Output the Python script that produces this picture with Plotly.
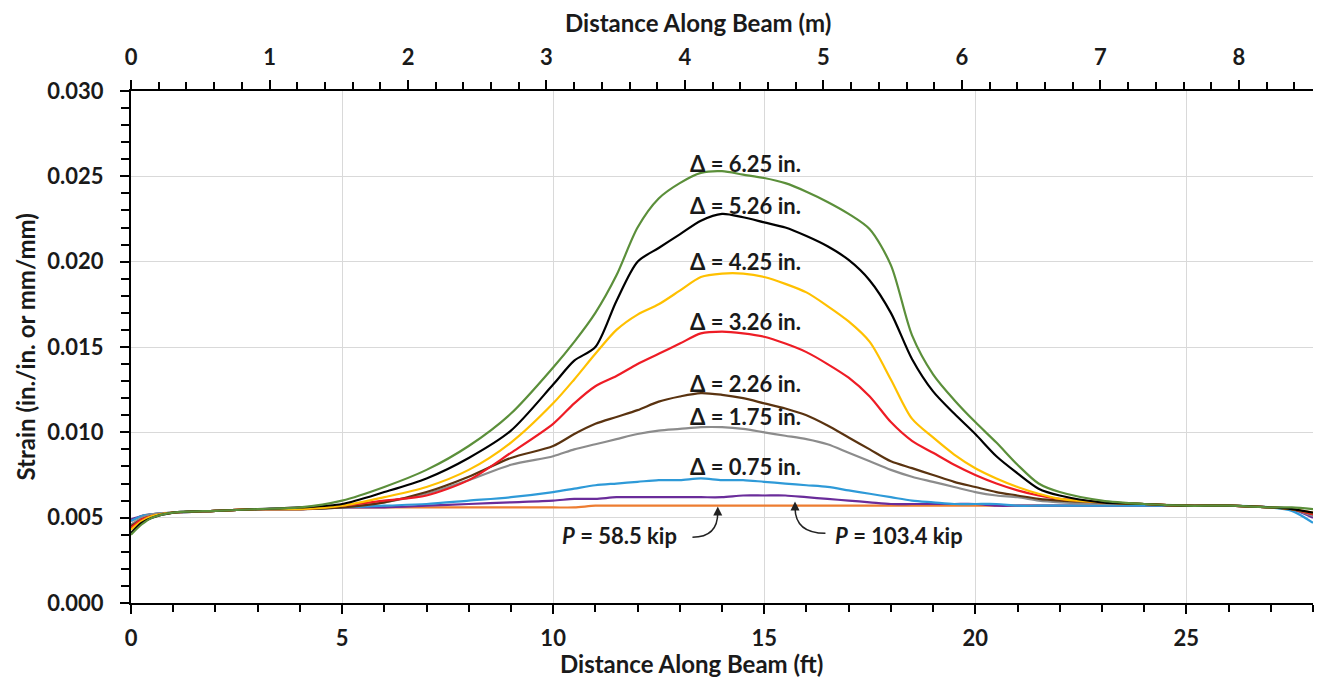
import plotly.graph_objects as go

# ---------------- data ----------------
x_ft = [0, 0.25, 0.5, 1, 2, 3, 4, 5, 6, 7, 8, 9, 10, 10.5, 11, 11.5, 12, 12.5, 13, 13.5,
        14, 14.5, 15, 15.5, 16, 16.5, 17, 17.5, 18, 18.5, 19, 19.5, 20, 20.5, 21, 21.5,
        22, 23, 24, 25, 26, 27, 27.5, 28]

strain_p58 = [0.0048, 0.0051, 0.0052, 0.0053, 0.0054, 0.0055, 0.0055, 0.0056, 0.0056, 0.0056,
              0.0056, 0.0056, 0.0056, 0.0056, 0.0057, 0.0057, 0.0057, 0.0057, 0.0057, 0.0057,
              0.0057, 0.0057, 0.0057, 0.0057, 0.0057, 0.0057, 0.0057, 0.0057, 0.0057, 0.0057,
              0.0057, 0.0057, 0.0057, 0.0057, 0.0057, 0.0057, 0.0057, 0.0057, 0.0057, 0.0057,
              0.0057, 0.0056, 0.0055, 0.0052]
strain_p103 = [0.0049, 0.0051, 0.0052, 0.0053, 0.0054, 0.0055, 0.0055, 0.0056, 0.0056, 0.0057,
               0.0058, 0.0059, 0.0060, 0.0061, 0.0061, 0.0062, 0.0062, 0.0062, 0.0062, 0.0062,
               0.0062, 0.0063, 0.0063, 0.0063, 0.0062, 0.0061, 0.0060, 0.0059, 0.0058, 0.0058,
               0.0058, 0.0058, 0.0058, 0.0057, 0.0057, 0.0057, 0.0057, 0.0057, 0.0057, 0.0057,
               0.0057, 0.0056, 0.0055, 0.0050]
strain_d075 = [0.0048, 0.0051, 0.0052, 0.0053, 0.0054, 0.0055, 0.0055, 0.0056, 0.0057, 0.0058,
               0.0060, 0.0062, 0.0065, 0.0067, 0.0069, 0.0070, 0.0071, 0.0072, 0.0072, 0.0073,
               0.0072, 0.0072, 0.0071, 0.0070, 0.0069, 0.0068, 0.0066, 0.0064, 0.0062, 0.0060,
               0.0059, 0.0058, 0.0058, 0.0058, 0.0057, 0.0057, 0.0057, 0.0057, 0.0057, 0.0057,
               0.0057, 0.0056, 0.0054, 0.0047]
strain_d175 = [0.0046, 0.0050, 0.0052, 0.0053, 0.0054, 0.0055, 0.0055, 0.0056, 0.0059, 0.0064,
               0.0072, 0.0081, 0.0086, 0.0090, 0.0093, 0.0096, 0.0099, 0.0101, 0.0102, 0.0103,
               0.0103, 0.0102, 0.0100, 0.0098, 0.0096, 0.0093, 0.0088, 0.0083, 0.0078, 0.0074,
               0.0071, 0.0068, 0.0065, 0.0063, 0.0062, 0.0060, 0.0059, 0.0058, 0.0058, 0.0057,
               0.0057, 0.0056, 0.0055, 0.0051]
strain_d226 = [0.0045, 0.0049, 0.0051, 0.0053, 0.0054, 0.0055, 0.0055, 0.0056, 0.0059, 0.0065,
               0.0074, 0.0085, 0.0092, 0.0099, 0.0105, 0.0109, 0.0113, 0.0118, 0.0121, 0.0123,
               0.0122, 0.0120, 0.0117, 0.0114, 0.0110, 0.0104, 0.0097, 0.0090, 0.0083, 0.0079,
               0.0075, 0.0071, 0.0068, 0.0065, 0.0063, 0.0061, 0.0060, 0.0059, 0.0058, 0.0057,
               0.0057, 0.0056, 0.0055, 0.0052]
strain_d326 = [0.0044, 0.0049, 0.0051, 0.0053, 0.0054, 0.0055, 0.0055, 0.0057, 0.0060, 0.0063,
               0.0072, 0.0088, 0.0105, 0.0117, 0.0127, 0.0133, 0.0140, 0.0146, 0.0152, 0.0158,
               0.0159, 0.0158, 0.0156, 0.0152, 0.0147, 0.0140, 0.0132, 0.0121, 0.0106, 0.0095,
               0.0088, 0.0081, 0.0075, 0.0070, 0.0066, 0.0063, 0.0061, 0.0059, 0.0058, 0.0057,
               0.0057, 0.0056, 0.0055, 0.0052]
strain_d425 = [0.0043, 0.0048, 0.0051, 0.0053, 0.0054, 0.0055, 0.0055, 0.0057, 0.0062, 0.0068,
               0.0078, 0.0094, 0.0117, 0.0131, 0.0146, 0.0160, 0.0169, 0.0175, 0.0183, 0.0191,
               0.0193, 0.0193, 0.0191, 0.0187, 0.0182, 0.0174, 0.0165, 0.0153, 0.0131, 0.0108,
               0.0097, 0.0087, 0.0079, 0.0073, 0.0068, 0.0064, 0.0061, 0.0059, 0.0058, 0.0057,
               0.0057, 0.0056, 0.0055, 0.0053]
strain_d526 = [0.0041, 0.0047, 0.0050, 0.0053, 0.0054, 0.0055, 0.0056, 0.0058, 0.0065, 0.0073,
               0.0085, 0.0101, 0.0128, 0.0142, 0.0150, 0.0177, 0.0200, 0.0208, 0.0216, 0.0224,
               0.0228, 0.0226, 0.0223, 0.0220, 0.0215, 0.0209, 0.0201, 0.0189, 0.0170, 0.0143,
               0.0124, 0.0111, 0.0099, 0.0086, 0.0076, 0.0067, 0.0063, 0.0059, 0.0058, 0.0057,
               0.0057, 0.0056, 0.0055, 0.0053]
strain_d625 = [0.0040, 0.0046, 0.0050, 0.0053, 0.0054, 0.0055, 0.0056, 0.0060, 0.0068, 0.0078,
               0.0092, 0.0111, 0.0138, 0.0153, 0.0170, 0.0192, 0.0220, 0.0237, 0.0246, 0.0252,
               0.0253, 0.0251, 0.0249, 0.0246, 0.0241, 0.0235, 0.0228, 0.0219, 0.0198, 0.0157,
               0.0134, 0.0119, 0.0106, 0.0094, 0.0081, 0.0070, 0.0065, 0.0060, 0.0058, 0.0057,
               0.0057, 0.0056, 0.0056, 0.0055]

series_colors = ["#ed7d31", "#6a2c9a", "#2e9ad8", "#8c8c8c", "#5a3310",
                 "#ee1c25", "#ffc000", "#000000", "#5b8f3a"]
series_values = [strain_p58, strain_p103, strain_d075, strain_d175, strain_d226,
                 strain_d326, strain_d425, strain_d526, strain_d625]

delta_labels = ["Δ = 6.25 in.", "Δ = 5.26 in.", "Δ = 4.25 in.", "Δ = 3.26 in.",
                "Δ = 2.26 in.", "Δ = 1.75 in.", "Δ = 0.75 in."]
delta_label_y = [0.02576, 0.0233, 0.0200, 0.0165, 0.01288, 0.01094, 0.0080]
delta_label_x = 14.55

x_ticks_ft = [0, 5, 10, 15, 20, 25]
x_ticks_m = [0, 1, 2, 3, 4, 5, 6, 7, 8]
y_ticks = [0.000, 0.005, 0.010, 0.015, 0.020, 0.025, 0.030]

FT_TO_M = 0.3048
X_MAX_FT = 28

# ---------------- figure ----------------
FONT = "Lato, Carlito, Calibri, 'Open Sans', sans-serif"
TXT = "#1a1a1a"

fig = go.Figure()
for vals, col in zip(series_values, series_colors):
    fig.add_trace(go.Scatter(x=x_ft, y=vals, mode="lines",
                             line=dict(color=col, width=2.2, shape="spline", smoothing=0.8),
                             showlegend=False, hoverinfo="skip"))

# invisible trace carrying the metric (top) axis
fig.add_trace(go.Scatter(x=[v * FT_TO_M for v in x_ft], y=strain_p58, xaxis="x2",
                         mode="lines", line=dict(width=0), opacity=0,
                         showlegend=False, hoverinfo="skip"))

tickfont = dict(family=FONT, size=22, color=TXT, weight="bold")
common = dict(ticks="outside", ticklen=9, tickwidth=2, tickcolor="black",
              showline=True, linewidth=2, linecolor="black", zeroline=False,
              tickfont=tickfont, automargin=False)

# the page body adds an 8px offset, so the figure is sized to fill the rest
fig.update_layout(
    width=1314, height=670,
    margin=dict(l=123, r=9, t=83, b=75),
    paper_bgcolor="white", plot_bgcolor="white",
    showlegend=False,
    font=dict(family=FONT, color=TXT),
    xaxis=dict(range=[0, X_MAX_FT], tickvals=x_ticks_ft, showgrid=True,
               gridcolor="#d9d9d9", gridwidth=1, ticklabelstandoff=6,
               minor=dict(dtick=1, tick0=0, ticks="outside", ticklen=7, tickwidth=2,
                          tickcolor="black", showgrid=False),
               **common),
    xaxis2=dict(range=[0, X_MAX_FT * FT_TO_M], tickvals=x_ticks_m, overlaying="x",
                side="top", anchor="y", showgrid=False, ticklabelstandoff=6,
                minor=dict(dtick=0.2, tick0=0, ticks="outside", ticklen=7, tickwidth=2,
                           tickcolor="black", showgrid=False),
                **common),
    yaxis=dict(range=[0, 0.030], tickvals=y_ticks, tickformat=".3f", showgrid=True,
               gridcolor="#d9d9d9", gridwidth=1, ticklabelstandoff=12,
               minor=dict(dtick=0.001, tick0=0, ticks="outside", ticklen=8, tickwidth=2,
                          tickcolor="black", showgrid=False),
               **common),
)

labfont = dict(family=FONT, size=22, color=TXT, weight="bold")
for txt, yy in zip(delta_labels, delta_label_y):
    fig.add_annotation(x=delta_label_x, y=yy, text=txt, showarrow=False,
                       xref="x", yref="y", font=labfont)

fig.add_annotation(x=11.58, y=0.00395, text="<i>P</i> = 58.5 kip", showarrow=False,
                   xref="x", yref="y", font=labfont)
fig.add_annotation(x=18.20, y=0.00395, text="<i>P</i> = 103.4 kip", showarrow=False,
                   xref="x", yref="y", font=labfont)

# curved leader arrows
fig.add_shape(type="path", xref="x", yref="y",
              path="M 13.30,0.00385 Q 13.90,0.00385 13.90,0.00530",
              line=dict(color="#222222", width=1.5))
fig.add_annotation(x=13.90, y=0.00565, ax=0, ay=7, text="", showarrow=True,
                   arrowhead=2, arrowsize=1.2, arrowwidth=1.5, arrowcolor="#222222",
                   xref="x", yref="y")
fig.add_shape(type="path", xref="x", yref="y",
              path="M 16.45,0.00408 Q 15.73,0.00408 15.73,0.00560",
              line=dict(color="#222222", width=1.5))
fig.add_annotation(x=15.73, y=0.00595, ax=0, ay=7, text="", showarrow=True,
                   arrowhead=2, arrowsize=1.2, arrowwidth=1.5, arrowcolor="#222222",
                   xref="x", yref="y")

# axis titles
titlefont = dict(family=FONT, size=24, color=TXT, weight="bold")
fig.add_annotation(text="Distance Along Beam (ft)", xref="paper", yref="paper",
                   x=0.4746, y=-0.118, showarrow=False, font=titlefont,
                   xanchor="center", yanchor="middle")
fig.add_annotation(text="Distance Along Beam (m)", xref="paper", yref="paper",
                   x=0.48, y=1.133, showarrow=False, font=titlefont,
                   xanchor="center", yanchor="middle")
fig.add_annotation(text="Strain (in./in. or mm/mm)", xref="paper", yref="paper",
                   x=-0.09, y=0.5, showarrow=False, font=titlefont, textangle=-90,
                   xanchor="center", yanchor="middle")

fig.write_html("out.html")
